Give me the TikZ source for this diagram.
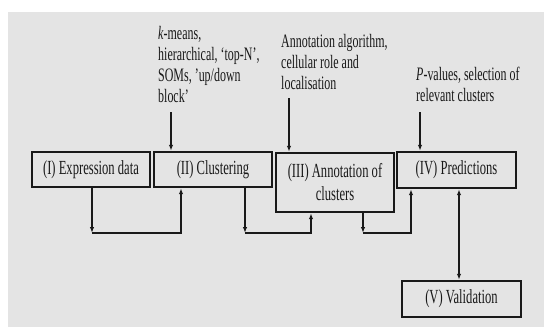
\documentclass[tikz,border=0pt]{standalone}
\usepackage{fontspec}
\setmainfont[FakeStretch=0.63]{Liberation Serif}
\usetikzlibrary{arrows.meta}
\definecolor{bgc}{RGB}{228,228,228}
\definecolor{ink}{RGB}{25,25,25}
\tikzset{
  box/.style={draw=ink, line width=2.4pt, minimum height=35pt, minimum width=118pt, inner sep=0pt, align=center, font=\fontsize{20}{23}\selectfont, text=ink},
  note/.style={anchor=north west, inner sep=0pt, align=left, font=\fontsize{19}{21}\selectfont, text=ink},
  conn/.style={draw=ink, line width=1.5pt, -{Latex[length=6pt,width=4.5pt]}},
  dconn/.style={draw=ink, line width=1.5pt, {Latex[length=6pt,width=4.5pt]}-{Latex[length=6pt,width=4.5pt]}}
}
\begin{document}
\begin{tikzpicture}[x=1pt,y=-1pt]
\useasboundingbox (0,0) rectangle (544,327);
\fill[bgc] (8,12) rectangle (544,327);
% boxes
\node[box] (I) at (91,169.5) {(I) Expression data};
\node[box] (II) at (213,169.5) {(II) Clustering};
\node[box, minimum height=59pt] (III) at (335,182.5) {(III) Annotation of\\clusters};
\node[box, minimum width=119pt, minimum height=36pt] (IV) at (456.5,170) {(IV) Predictions};
\node[box, minimum width=119pt, minimum height=36pt] (V) at (461.5,299) {(V) Validation};
% notes
\node[note] (t1) at (158,26) {\textit{k}-means,\\hierarchical, `top-N',\\SOMs, 'up/down\\block'};
\node[note] (t2) at (281,34) {Annotation algorithm,\\cellular role and\\localisation};
\node[note] (t3) at (416,67) {\textit{P}-values, selection of\\relevant clusters};
% note arrows
\coordinate (a1) at (171,112);
\coordinate (a2) at (289,98);
\coordinate (a3) at (420,112);
\draw[conn] (a1) -- (a1 |- II.north);
\draw[conn] (a2) -- (a2 |- III.north);
\draw[conn] (a3) -- (a3 |- IV.north);
% flow connectors
\coordinate (c1) at (92,233);
\coordinate (c2) at (245,233);
\coordinate (c3) at (363,233);
\draw[conn] (c1 |- I.south) -- (c1);
\draw[conn] (c1) -| ([xshift=-32pt]II.south);
\draw[conn] (c2 |- II.south) -- (c2);
\draw[conn] (c2) -| ([xshift=-24pt]III.south);
\draw[conn] (c3 |- III.south) -- (c3);
\draw[conn] (c3) -| ([xshift=-45.5pt]IV.south);
\draw[dconn] ([xshift=2.5pt]IV.south) -- ([xshift=2.5pt]IV.south |- V.north);
\end{tikzpicture}
\end{document}
